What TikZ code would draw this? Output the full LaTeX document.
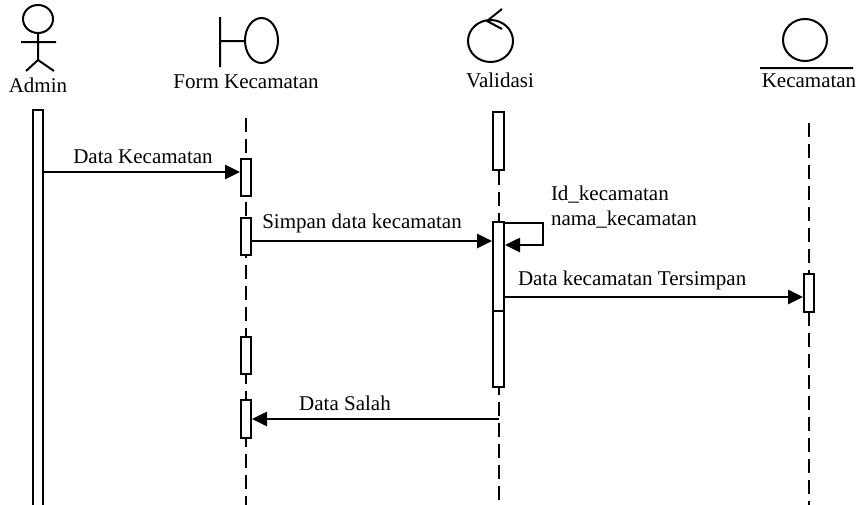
\documentclass[tikz,border=0pt]{standalone}
\usepackage{fontspec}
\setmainfont{Liberation Serif}
\usetikzlibrary{arrows.meta}

\begin{document}
\begin{tikzpicture}[x=0.5pt,y=-0.5pt,line width=1pt,
    font=\fontsize{10.5}{12.5}\selectfont,
    act/.style={draw,fill=white,inner sep=0pt,minimum width=5pt,minimum height=#1},
    life/.style={dash pattern=on 7pt off 3.5pt},
    msg/.style={line width=1.3pt,-{Triangle[length=7.5pt,width=7pt]}},
    icon/.style={line width=1pt},
    lbl/.style={inner sep=0pt}
    ]
  \useasboundingbox (0,0) rectangle (862,504);

  % heads
  \draw[icon] (38,19) ellipse (15 and 14) (38,33) -- (38,60) (21,42) -- (56,42)
        (26,71) -- (38,60) -- (54,71);
  \draw[icon] (220,17) -- (220,67) (220,41) -- (245,41) (261.5,40.5) ellipse (16.5 and 22.5);
  \draw[icon] (490.5,41) ellipse (22.5 and 21) (502,9) -- (487,21) -- (502,29);
  \draw[icon] (805,40) ellipse (22 and 21) (760,68) -- (853,68);
  \node[lbl,anchor=base] (admin) at (38,92) {Admin};
  \node[lbl,anchor=base] (form) at (246,88) {Form Kecamatan};
  \node[lbl,anchor=base] (valid) at (500,87) {Validasi};
  \node[lbl,anchor=base] (kec) at (809,87) {Kecamatan};

  % lifelines and activations
  \draw[life] (246,118) -- (246,506);
  \draw[life] (809,123) -- (809,506);
  \node[act=200pt] (a0) at (38,310) {};
  \node[act=18.5pt] (f1) at (246,177.5) {};
  \node[act=18.5pt] (f2) at (246,236.5) {};
  \node[act=18.5pt] (f3) at (246,355.5) {};
  \node[act=19pt] (f4) at (246,419) {};
  \node[act=29pt,minimum width=5.5pt] (v1) at (498.5,141) {};
  \draw[life] (v1.south) -- (498.5,506);
  \node[act=82.5pt,minimum width=5.5pt] (v2) at (498.5,304.5) {};
  \node[act=44.5pt,minimum width=5.5pt] (v3) at (498.5,266.5) {};
  \node[act=19pt] (k1) at (809,293) {};
  \coordinate (vs) at (498.5,419);

  % messages
  \draw[msg] (a0.east |- 0,172) -- (f1.west |- 0,172);
  \draw[msg] (f2.east |- 0,241) -- (v2.west |- 0,241);
  \draw[msg] (v3.east |- 0,223) -- ++(38,0) |- (v3.east |- 0,245);
  \draw[msg] (v3.east |- 0,297) -- (k1.west |- 0,297);
  \draw[msg] (vs) -- (f4.east |- vs);
  \node[lbl,anchor=base] (m1) at (143,163) {Data Kecamatan};
  \node[lbl,anchor=base] (m2) at (362,228) {Simpan data kecamatan};
  \node[lbl,anchor=west,align=left] (m3) at (550,207) {Id\_kecamatan\\nama\_kecamatan};
  \node[lbl,anchor=base west] (m4) at (517,285) {Data kecamatan Tersimpan};
  \node[lbl,anchor=base] (m5) at (345,410) {Data Salah};
\end{tikzpicture}
\end{document}
